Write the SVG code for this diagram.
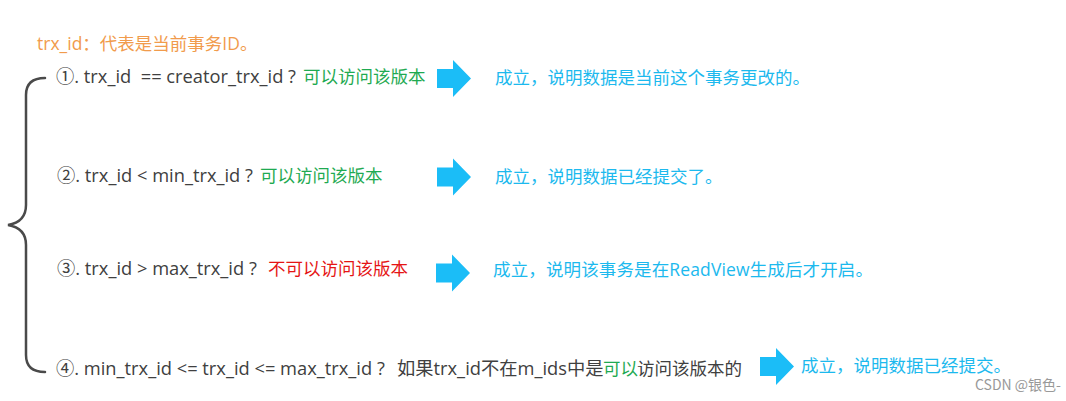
<svg xmlns="http://www.w3.org/2000/svg" width="1066" height="401" viewBox="0 0 1066 401">
<style>
text{font-family:"Open Sans","Noto Sans CJK SC",sans-serif;font-size:17.5px}
.k{fill:#404040}
.lt{font-size:18.3px}
.g{fill:#1faa52}
.r{fill:#e51515}
.b{fill:#1cb9ee}
.o{fill:#f19b4c}
.wm{fill:#999;font-size:14px;font-family:"Noto Sans CJK SC","Liberation Sans",sans-serif}
.br{fill:none;stroke:#4a4a4a;stroke-width:2.5;stroke-linecap:round}
.arr{fill:#1bbdf7}
</style>
<defs>
<path id="ar" d="M0,-9.5 H16 V-18.5 L34,0 L16,18.5 V9.5 H0 Z"/>
</defs>
<rect width="1066" height="401" fill="#fff"/>
<g id="title"><text class="o" x="37" y="50">trx_id：代表是当前事务ID。</text></g>
<g id="brace"><path class="br" d="M45,78 Q26,78 26,95 L26,205 Q26,222 8,225 Q26,228 26,245 L26,355 Q26,372 45,372"/></g>
<g id="rule1">
<text class="k lt" x="56" y="83" xml:space="preserve">①. trx_id  == creator_trx_id ?</text>
<text class="g" x="303" y="83">可以访问该版本</text>
</g>
<g id="result1"><text class="b" x="495" y="84">成立，说明数据是当前这个事务更改的。</text></g>
<g id="rule2">
<text class="k lt" x="57" y="182">②. trx_id &lt; min_trx_id ?</text>
<text class="g" x="260" y="182">可以访问该版本</text>
</g>
<g id="result2"><text class="b" x="495" y="183">成立，说明数据已经提交了。</text></g>
<g id="rule3">
<text class="k lt" x="57" y="275">③. trx_id &gt; max_trx_id ?</text>
<text class="r" x="268" y="275">不可以访问该版本</text>
</g>
<g id="result3"><text class="b" x="493" y="276" textLength="380" lengthAdjust="spacing">成立，说明该事务是在ReadView生成后才开启。</text></g>
<g id="rule4">
<text class="k lt" x="56" y="375">④. min_trx_id &lt;= trx_id &lt;= max_trx_id ?</text>
<text class="k lt" x="397" y="375">如果trx_id不在m_ids中是</text>
<text class="g" x="603" y="375">可以</text>
<text class="k" x="637" y="375">访问该版本的</text>
</g>
<g id="result4"><text class="b" x="801" y="372">成立，说明数据已经提交。</text></g>
<g id="connectors">
<use href="#ar" class="arr" x="437" y="78.5"/>
<use href="#ar" class="arr" x="437" y="177"/>
<use href="#ar" class="arr" x="436" y="273"/>
<use href="#ar" class="arr" x="760" y="366.5"/>
</g>
<g id="watermark"><text class="wm" x="975" y="390">CSDN @银色-</text></g>
</svg>
